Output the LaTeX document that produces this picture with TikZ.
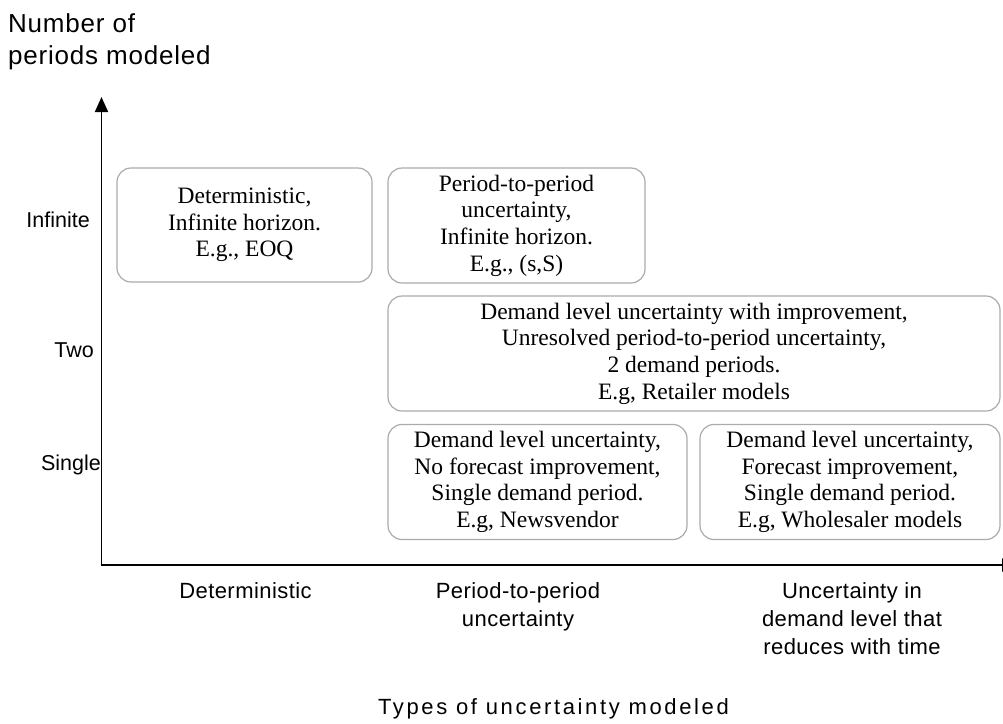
\documentclass[tikz,border=0pt]{standalone}
\usepackage{fontspec}
\setmainfont{Liberation Serif}
\newfontfamily\axisfont[LetterSpace=2]{Liberation Sans}
\newfontfamily\ylabfont{Liberation Sans}
\newfontfamily\titlefont[LetterSpace=3]{Liberation Sans}
\newfontfamily\xtitlefont[LetterSpace=12]{Liberation Sans}
\usetikzlibrary{arrows.meta}
\begin{document}
\begin{tikzpicture}[x=1pt,y=-1pt,
  cell/.style={draw=black!33, line width=1.2pt, rounded corners=14pt, align=center,
    font=\fontsize{23.5}{26.7}\selectfont, inner sep=0pt},
  ylab/.style={inner sep=0pt, font=\ylabfont\fontsize{21.5}{28}\selectfont},
  xlab/.style={inner sep=0pt, align=center, anchor=north, font=\axisfont\fontsize{22}{28}\selectfont},
  axisline/.style={line width=1.8pt, -{Triangle[width=13pt,length=15pt]}}
]
\clip (0,0) rectangle (1003,723);
\fill[white] (0,0) rectangle (1003,723);

% axes
\coordinate (origin) at (101.5,565);
\coordinate (ytip) at (101.5,97);
\coordinate (xtip) at (1017,565);
\draw[axisline] (origin) -- (ytip);
\draw[axisline] ([xshift=-0.9pt]origin) -- (xtip);

% axis titles
\node[inner sep=0pt, anchor=north west, align=left, font=\titlefont\fontsize{26}{32}\selectfont] (ytitle) at (8,13) {Number of\\periods modeled};
\node[inner sep=0pt, anchor=base, font=\xtitlefont\fontsize{22}{28}\selectfont] (xtitle) at (553.5,714) {Types of uncertainty modeled};

% y labels
\node[ylab, anchor=base east] (linf) at (90,227) {Infinite};
\node[ylab, anchor=base east] (ltwo) at (94,357) {Two};
\node[ylab, anchor=base east] (lsingle) at (101,470) {Single};

% x labels
\node[xlab] (ldet) at (245.5,582) {Deterministic};
\node[xlab] (lp2p) at (518,582) {Period-to-period\\uncertainty};
\node[xlab] (lunc) at (852,582) {Uncertainty in\\demand level that\\reduces with time};

% boxes
\node[cell, minimum width=255pt, minimum height=114pt] (b1) at (244.5,225)
  {Deterministic,\\Infinite horizon.\\E.g., EOQ};
\node[cell, minimum width=257pt, minimum height=115pt] (b2) at (516.5,225.5)
  {Period-to-period\\uncertainty,\\Infinite horizon.\\E.g., (s,S)};
\node[cell, minimum width=612pt, minimum height=115pt] (b3) at (694,353.5)
  {Demand level uncertainty with improvement,\\Unresolved period-to-period uncertainty,\\2 demand periods.\\E.g, Retailer models};
\node[cell, minimum width=299pt, minimum height=115pt] (b4) at (537.5,482)
  {Demand level uncertainty,\\No forecast improvement,\\Single demand period.\\E.g, Newsvendor};
\node[cell, minimum width=300pt, minimum height=115pt] (b5) at (850,482)
  {Demand level uncertainty,\\Forecast improvement,\\Single demand period.\\E.g, Wholesaler models};
\end{tikzpicture}
\end{document}
